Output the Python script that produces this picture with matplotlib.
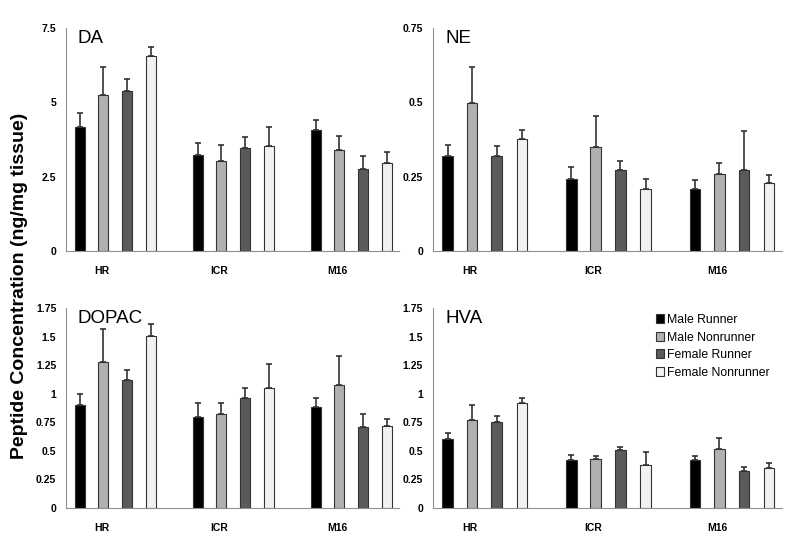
import numpy as np
import matplotlib
matplotlib.use('Agg')
import matplotlib.pyplot as plt
from matplotlib.ticker import FuncFormatter

plt.rcParams['font.family'] = ['Liberation Sans', 'DejaVu Sans']

strains = ['HR', 'ICR', 'M16']
groups = ['Male Runner', 'Male Nonrunner', 'Female Runner', 'Female Nonrunner']

# means per group, order: HR, ICR, M16
da_mean = {'Male Runner': [4.17, 3.23, 4.07],
           'Male Nonrunner': [5.26, 3.03, 3.38],
           'Female Runner': [5.38, 3.45, 2.75],
           'Female Nonrunner': [6.57, 3.53, 2.95]}
da_err = {'Male Runner': [0.47, 0.41, 0.33],
          'Male Nonrunner': [0.92, 0.52, 0.48],
          'Female Runner': [0.40, 0.38, 0.43],
          'Female Nonrunner': [0.29, 0.64, 0.38]}

ne_mean = {'Male Runner': [0.319, 0.241, 0.207],
           'Male Nonrunner': [0.496, 0.348, 0.258],
           'Female Runner': [0.319, 0.274, 0.273],
           'Female Nonrunner': [0.375, 0.210, 0.227]}
ne_err = {'Male Runner': [0.038, 0.042, 0.031],
          'Male Nonrunner': [0.122, 0.106, 0.037],
          'Female Runner': [0.034, 0.029, 0.131],
          'Female Nonrunner': [0.033, 0.033, 0.027]}

dopac_mean = {'Male Runner': [0.906, 0.800, 0.888],
              'Male Nonrunner': [1.281, 0.824, 1.079],
              'Female Runner': [1.123, 0.967, 0.709],
              'Female Nonrunner': [1.507, 1.047, 0.715]}
dopac_err = {'Male Runner': [0.088, 0.115, 0.079],
             'Male Nonrunner': [0.284, 0.091, 0.252],
             'Female Runner': [0.082, 0.088, 0.112],
             'Female Nonrunner': [0.108, 0.216, 0.062]}

hva_mean = {'Male Runner': [0.605, 0.421, 0.424],
            'Male Nonrunner': [0.768, 0.429, 0.520],
            'Female Runner': [0.757, 0.505, 0.321],
            'Female Nonrunner': [0.917, 0.380, 0.354]}
hva_err = {'Male Runner': [0.055, 0.044, 0.035],
           'Male Nonrunner': [0.138, 0.024, 0.096],
           'Female Runner': [0.052, 0.033, 0.041],
           'Female Nonrunner': [0.047, 0.108, 0.040]}

colors = {'Male Runner': '#000000', 'Male Nonrunner': '#B0B0B0',
          'Female Runner': '#5A5A5A', 'Female Nonrunner': '#F2F2F2'}

fig = plt.figure(figsize=(8, 5.43), dpi=100)

panels = [
    ('DA', da_mean, da_err, 7.5, 2.5, [0.0825, 0.5378, 0.416, 0.4107]),
    ('NE', ne_mean, ne_err, 0.75, 0.25, [0.541, 0.5378, 0.436, 0.4107]),
    ('DOPAC', dopac_mean, dopac_err, 1.75, 0.25, [0.0825, 0.0645, 0.416, 0.368]),
    ('HVA', hva_mean, hva_err, 1.75, 0.25, [0.541, 0.0645, 0.436, 0.368]),
]

x = np.arange(len(strains))
offsets = [-0.30, -0.103, 0.097, 0.30]
width = 0.085

for name, means, errs, ymax, step, rect in panels:
    ax = fig.add_axes(rect)
    handles = []
    for g, off in zip(groups, offsets):
        b = ax.bar(x + off, means[g], width, color=colors[g], edgecolor='#333333',
                   linewidth=0.8, label=g, zorder=2)
        ax.errorbar(x + off, means[g], yerr=[np.zeros(3), errs[g]], fmt='none',
                    ecolor='#333333', elinewidth=1.2, capsize=2, capthick=1.2, zorder=3)
        handles.append(b)
    ax.set_xlim(-0.42, 2.40)
    ax.set_ylim(0, ymax)
    ax.set_yticks(np.arange(0, ymax + step / 2, step))
    ax.yaxis.set_major_formatter(FuncFormatter(lambda v, p: '%g' % round(v, 3)))
    ax.set_xticks(x - 0.12)
    ax.set_xticklabels(strains)
    for s in ['top', 'right']:
        ax.spines[s].set_visible(False)
    for s in ['left', 'bottom']:
        ax.spines[s].set_color('#909090')
        ax.spines[s].set_linewidth(0.8)
    ax.tick_params(length=0, labelsize=7.5)
    ax.tick_params(axis='x', pad=11)
    ax.tick_params(axis='y', pad=7)
    for lab in ax.get_xticklabels() + ax.get_yticklabels():
        lab.set_fontweight('bold')
    ax.text(0.035, 0.99, name, transform=ax.transAxes, fontsize=13.5,
            va='top', ha='left')
    if name == 'HVA':
        ax.legend(handles, groups, loc='upper left', bbox_to_anchor=(0.625, 0.995),
                  frameon=False, fontsize=8.8, handlelength=0.7, handleheight=0.7,
                  handletextpad=0.2, labelspacing=0.45, borderaxespad=0)

fig.text(0.025, 0.473, 'Peptide Concentration (ng/mg tissue)', rotation=90,
         fontsize=14, fontweight='bold', ha='center', va='center')

fig.savefig('out.png', dpi=100)
